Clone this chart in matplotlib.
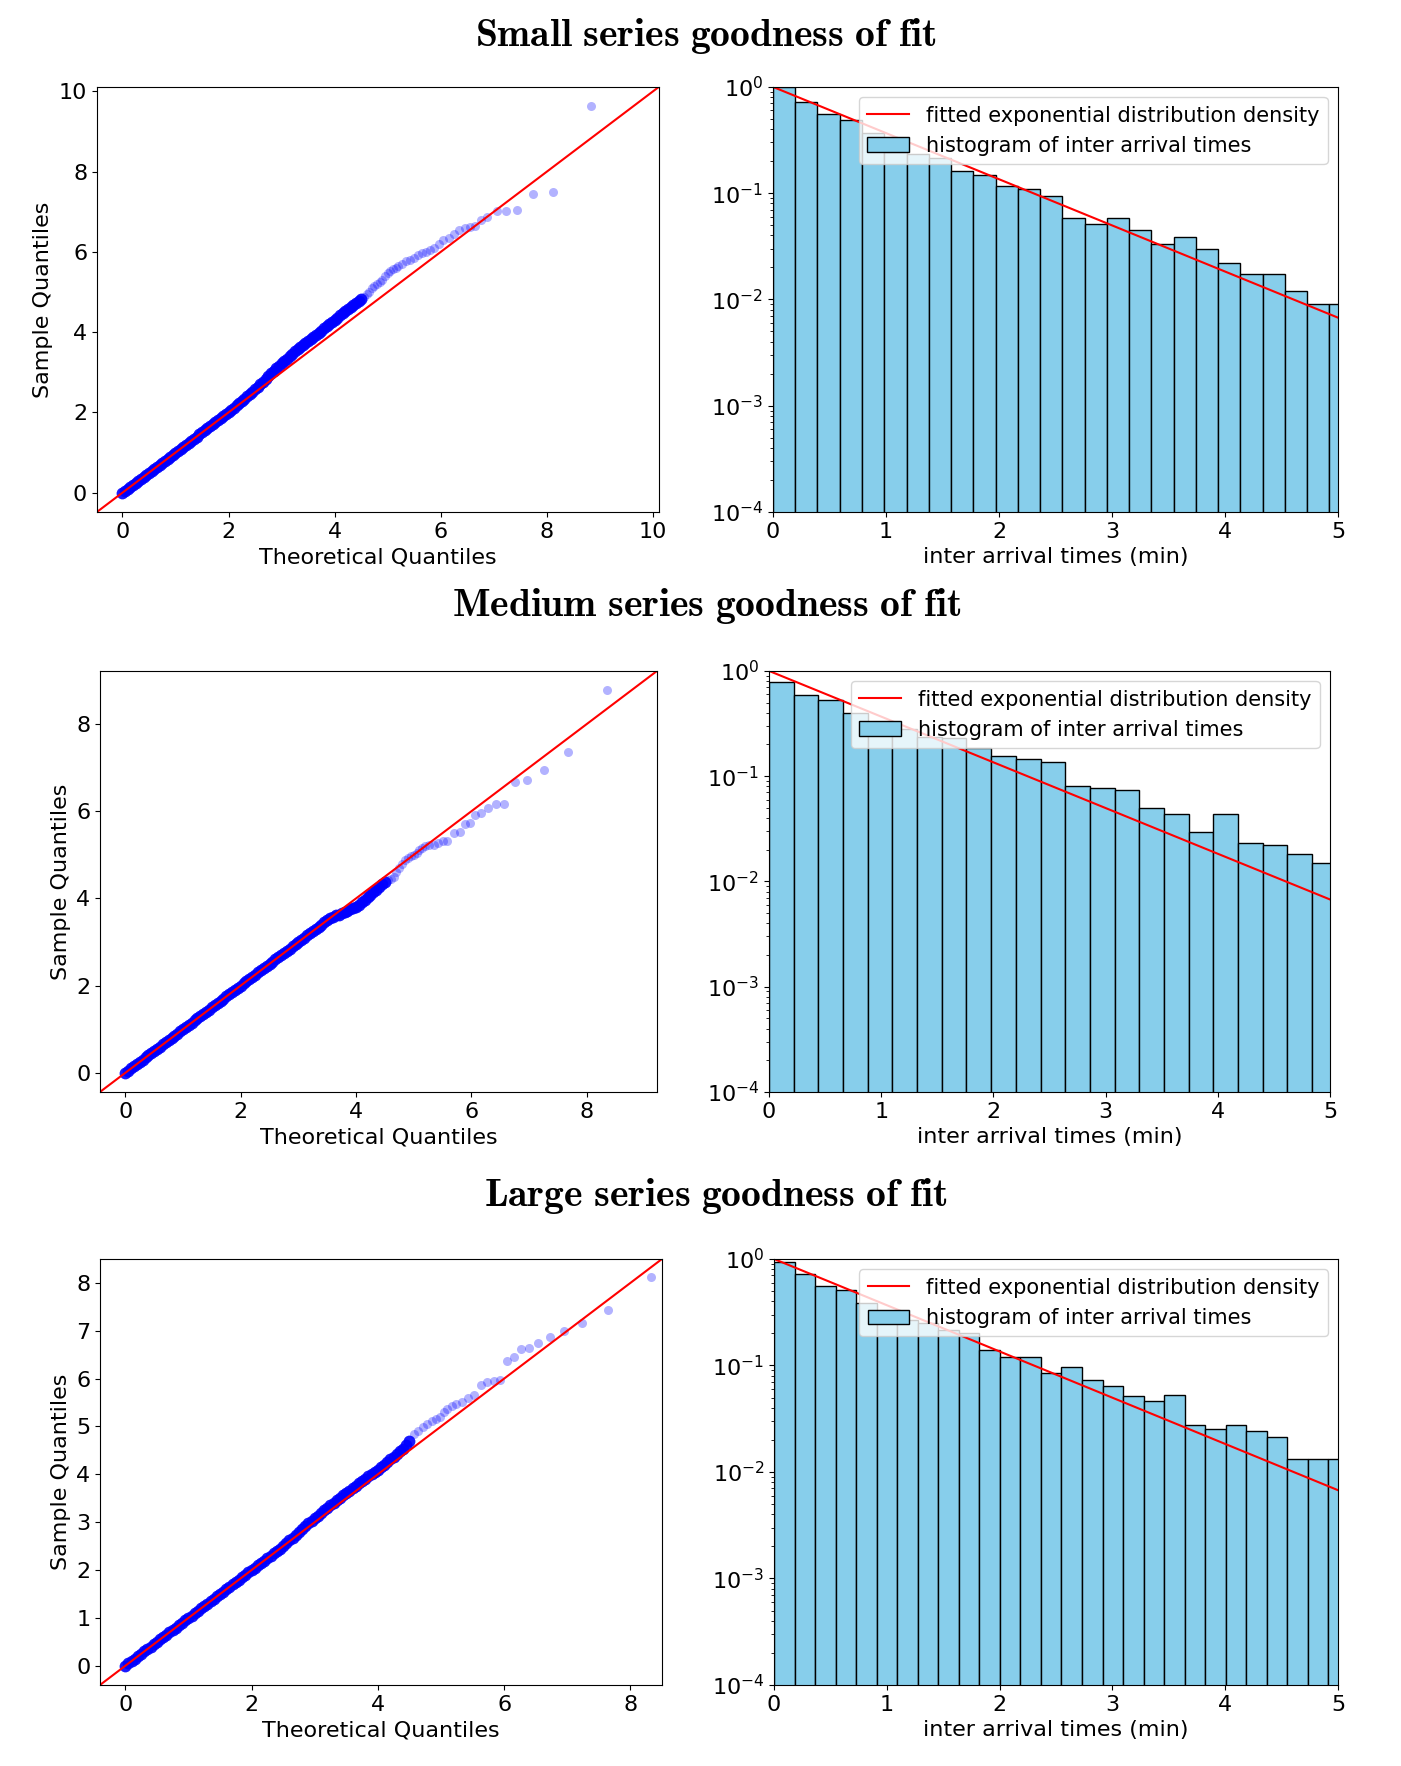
import matplotlib
matplotlib.use("Agg")
import matplotlib.pyplot as plt
import numpy as np

plt.rcParams['font.size'] = 16
plt.rcParams['legend.fontsize'] = 15
plt.rcParams['mathtext.fontset'] = 'cm'

# ---- titles ----
titles = ["Small series goodness of fit", "Medium series goodness of fit", "Large series goodness of fit"]

# ---- QQ plots: theoretical vs sample quantiles ----
dense_theo = [0.00, 0.05, 0.10, 0.15, 0.20, 0.25, 0.30, 0.35, 0.40, 0.45,
              0.50, 0.55, 0.60, 0.65, 0.70, 0.75, 0.80, 0.85, 0.90, 0.95,
              1.00, 1.05, 1.10, 1.15, 1.20, 1.25, 1.30, 1.35, 1.40, 1.45,
              1.50, 1.55, 1.60, 1.65, 1.70, 1.75, 1.80, 1.85, 1.90, 1.95,
              2.00, 2.05, 2.10, 2.15, 2.20, 2.25, 2.30, 2.35, 2.40, 2.45,
              2.50, 2.55, 2.60, 2.65, 2.70, 2.75, 2.80, 2.85, 2.90, 2.95,
              3.00, 3.05, 3.10, 3.15, 3.20, 3.25, 3.30, 3.35, 3.40, 3.45,
              3.50, 3.55, 3.60, 3.65, 3.70, 3.75, 3.80, 3.85, 3.90, 3.95,
              4.00, 4.05, 4.10, 4.15, 4.20, 4.25, 4.30, 4.35, 4.40, 4.45, 4.50]

small_dense = [0.00, 0.05, 0.10, 0.15, 0.20, 0.25, 0.30, 0.35, 0.40, 0.45,
               0.50, 0.55, 0.60, 0.65, 0.70, 0.75, 0.80, 0.85, 0.90, 0.95,
               1.00, 1.05, 1.10, 1.15, 1.20, 1.25, 1.30, 1.35, 1.40, 1.45,
               1.50, 1.55, 1.60, 1.65, 1.70, 1.75, 1.80, 1.85, 1.90, 1.95,
               2.00, 2.07, 2.12, 2.18, 2.23, 2.29, 2.34, 2.40, 2.45, 2.52,
               2.58, 2.64, 2.71, 2.77, 2.84, 2.90, 2.97, 3.04, 3.10, 3.16,
               3.22, 3.28, 3.34, 3.40, 3.46, 3.52, 3.57, 3.62, 3.67, 3.73,
               3.78, 3.83, 3.88, 3.94, 3.99, 4.04, 4.10, 4.15, 4.20, 4.26,
               4.31, 4.36, 4.42, 4.47, 4.53, 4.58, 4.63, 4.68, 4.73, 4.78, 4.83]
small_tail_theo = [4.55, 4.60, 4.65, 4.70, 4.75, 4.80, 4.85, 4.90, 4.95, 5.00,
                   5.05, 5.10, 5.15, 5.20, 5.27, 5.35, 5.42, 5.50, 5.57, 5.65,
                   5.72, 5.80, 5.88, 5.97, 6.05, 6.15, 6.25, 6.35, 6.45, 6.55,
                   6.65, 6.75, 6.88, 7.05, 7.22, 7.44, 7.74, 8.12, 8.83]
small_tail_samp = [4.88, 4.95, 5.00, 5.10, 5.15, 5.20, 5.25, 5.30, 5.40, 5.48,
                   5.52, 5.58, 5.60, 5.64, 5.70, 5.76, 5.80, 5.85, 5.92, 5.97,
                   6.00, 6.05, 6.10, 6.20, 6.30, 6.35, 6.45, 6.55, 6.60, 6.62,
                   6.65, 6.79, 6.88, 7.02, 7.02, 7.04, 7.43, 7.50, 9.64]

medium_dense = [0.00, 0.05, 0.10, 0.15, 0.20, 0.25, 0.30, 0.35, 0.40, 0.45,
                0.50, 0.55, 0.60, 0.65, 0.70, 0.75, 0.80, 0.85, 0.90, 0.95,
                1.00, 1.05, 1.10, 1.15, 1.20, 1.25, 1.30, 1.35, 1.40, 1.45,
                1.50, 1.55, 1.60, 1.65, 1.70, 1.75, 1.80, 1.85, 1.90, 1.95,
                2.00, 2.05, 2.10, 2.15, 2.20, 2.25, 2.30, 2.35, 2.40, 2.45,
                2.50, 2.55, 2.60, 2.65, 2.70, 2.75, 2.80, 2.85, 2.90, 2.95,
                3.00, 3.05, 3.10, 3.15, 3.20, 3.25, 3.30, 3.35, 3.40, 3.45,
                3.50, 3.54, 3.57, 3.61, 3.63, 3.66, 3.69, 3.72, 3.75, 3.77,
                3.80, 3.85, 3.91, 3.97, 4.03, 4.08, 4.14, 4.20, 4.26, 4.32, 4.37]
medium_tail_theo = [4.55, 4.60, 4.65, 4.70, 4.75, 4.80, 4.85, 4.90, 4.95, 5.00,
                    5.05, 5.10, 5.15, 5.20, 5.27, 5.35, 5.42, 5.50, 5.58, 5.70,
                    5.81, 5.89, 5.97, 6.07, 6.16, 6.29, 6.42, 6.57, 6.76, 6.97,
                    7.26, 7.67, 8.36]
medium_tail_samp = [4.42, 4.45, 4.50, 4.60, 4.70, 4.80, 4.88, 4.93, 4.97, 5.00,
                    5.05, 5.10, 5.15, 5.20, 5.22, 5.23, 5.28, 5.32, 5.32, 5.50,
                    5.53, 5.70, 5.72, 5.91, 5.95, 6.08, 6.17, 6.17, 6.67, 6.71,
                    6.95, 7.35, 8.78]

large_dense = [0.00, 0.05, 0.10, 0.15, 0.20, 0.25, 0.30, 0.35, 0.40, 0.45,
               0.50, 0.55, 0.60, 0.65, 0.70, 0.75, 0.80, 0.85, 0.90, 0.95,
               1.00, 1.05, 1.10, 1.15, 1.20, 1.25, 1.30, 1.35, 1.40, 1.45,
               1.50, 1.55, 1.60, 1.65, 1.70, 1.75, 1.80, 1.85, 1.90, 1.95,
               2.00, 2.05, 2.10, 2.15, 2.20, 2.25, 2.30, 2.35, 2.40, 2.45,
               2.50, 2.56, 2.62, 2.68, 2.74, 2.80, 2.86, 2.92, 2.98, 3.03,
               3.09, 3.14, 3.20, 3.25, 3.30, 3.36, 3.41, 3.46, 3.51, 3.56,
               3.61, 3.66, 3.71, 3.76, 3.81, 3.86, 3.91, 3.96, 4.00, 4.05,
               4.10, 4.15, 4.20, 4.26, 4.32, 4.37, 4.43, 4.48, 4.53, 4.62, 4.70]
large_tail_theo = [4.57, 4.64, 4.71, 4.78, 4.85, 4.92, 4.99, 5.05, 5.10, 5.17,
                   5.24, 5.33, 5.42, 5.52, 5.63, 5.73, 5.84, 5.93, 6.04, 6.15,
                   6.27, 6.39, 6.53, 6.73, 6.95, 7.24, 7.65, 8.33]
large_tail_samp = [4.84, 4.90, 4.98, 5.05, 5.12, 5.15, 5.19, 5.30, 5.37, 5.42,
                   5.47, 5.52, 5.60, 5.65, 5.86, 5.93, 5.95, 5.98, 6.37, 6.46,
                   6.62, 6.65, 6.75, 6.86, 7.00, 7.17, 7.44, 8.13]

qq_limits = [(-0.48, 10.11), (-0.44, 9.22), (-0.40, 8.50)]

# ---- histograms of inter arrival times (density, log scale) ----
bin_widths = [0.197, 0.220, 0.182]
small_hist = [1.0, 0.72, 0.56, 0.487, 0.365, 0.243, 0.234, 0.213, 0.163, 0.149,
              0.118, 0.109, 0.095, 0.059, 0.051, 0.059, 0.0453, 0.0333, 0.0384, 0.0296,
              0.0219, 0.0174, 0.0174, 0.01206, 0.00904, 0.00904]
medium_hist = [0.787, 0.592, 0.527, 0.396, 0.31, 0.279, 0.238, 0.23, 0.184, 0.156,
               0.147, 0.135, 0.081, 0.0769, 0.0742, 0.050, 0.0436, 0.0294, 0.0436, 0.0234,
               0.0221, 0.0182, 0.0148]
large_hist = [0.944, 0.718, 0.553, 0.511, 0.383, 0.27, 0.267, 0.253, 0.216, 0.20,
              0.139, 0.121, 0.120, 0.0858, 0.0963, 0.0726, 0.0647, 0.0518, 0.0461, 0.053,
              0.0276, 0.0255, 0.0276, 0.024, 0.0213, 0.0132, 0.0132, 0.0132]
fit_rates = [1.0, 1.0, 1.0]

dense_samples = [small_dense, medium_dense, large_dense]
tails = [(small_tail_theo, small_tail_samp),
         (medium_tail_theo, medium_tail_samp),
         (large_tail_theo, large_tail_samp)]
hist_data = [small_hist, medium_hist, large_hist]

# axes boxes in figure fractions [left, bottom, width, height]
qq_boxes = [[0.0692, 0.7101, 0.4011, 0.2407],
            [0.0714, 0.3817, 0.3976, 0.2384],
            [0.0714, 0.0459, 0.4011, 0.2412]]
hist_boxes = [[0.5517, 0.7101, 0.4033, 0.2407],
              [0.5489, 0.3817, 0.4004, 0.2384],
              [0.5525, 0.0459, 0.4026, 0.2412]]
title_pos = [(0.504, 0.9796), (0.504, 0.6569), (0.511, 0.3228)]

fig = plt.figure(figsize=(14.01, 17.66), dpi=100)

for i in range(3):
    # title
    tx, ty = title_pos[i]
    fig.text(tx, ty, r"$\mathbf{" + titles[i].replace(" ", r"\ ") + "}$",
             ha='center', va='center', fontsize=28.5)

    # QQ plot: the bulk of the points overlap into a solid band
    ax = fig.add_axes(qq_boxes[i])
    ax.plot(dense_theo, dense_samples[i], 'o', color='b', alpha=0.9,
            markersize=8.5, markeredgewidth=0)
    tx_, ty_ = tails[i]
    ax.plot(tx_, ty_, 'o', color='b', alpha=0.3, markersize=6.5, markeredgewidth=0)
    lo, hi = qq_limits[i]
    ax.plot([lo, hi], [lo, hi], 'r', linewidth=1.5)
    ax.set_xlim(lo, hi)
    ax.set_ylim(lo, hi)
    ax.set_xlabel("Theoretical Quantiles")
    ax.set_ylabel("Sample Quantiles")

    # histogram with fitted density
    ax2 = fig.add_axes(hist_boxes[i])
    heights = hist_data[i]
    edges = bin_widths[i] * np.arange(len(heights) + 1)
    xs = np.linspace(0, 5, 200)
    lam = fit_rates[i]
    ax2.plot(xs, lam * np.exp(-lam * xs), 'r', linewidth=1.5,
             label="fitted exponential distribution density")
    ax2.hist(edges[:-1], bins=edges, weights=heights, color='skyblue',
             edgecolor='black', linewidth=1, label="histogram of inter arrival times")
    ax2.set_yscale('log')
    ax2.set_xlim(0, 5)
    ax2.set_ylim(1e-4, 1)
    ax2.set_xlabel("inter arrival times (min)")
    ax2.legend(loc='upper right')

fig.savefig("out.png", dpi=100)
